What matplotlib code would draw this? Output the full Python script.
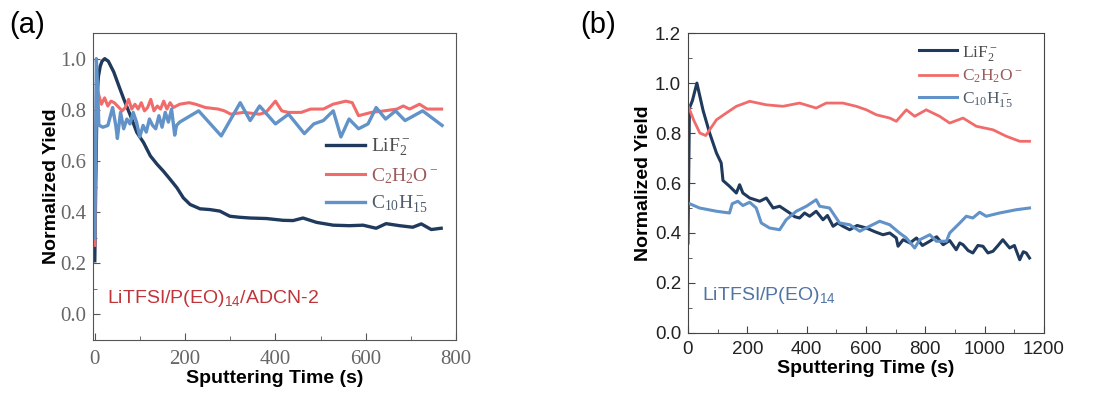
import matplotlib
matplotlib.use('Agg')
import matplotlib.pyplot as plt
from matplotlib.ticker import MultipleLocator

# ---- panel (a) data: LiTFSI/P(EO)14/ADCN-2 ----
a_lif_x = [0, 2, 5, 8, 12, 16, 22, 30, 42, 53, 64, 79, 93, 108, 123, 138, 152, 167, 182, 196, 211,
           233, 255, 277, 299, 320, 344, 380, 417, 439, 461, 491, 528, 564, 594, 623, 645, 675, 704,
           723, 745, 767]
a_lif_y = [0.21, 0.50, 0.85, 0.93, 0.97, 0.99, 1.00, 0.99, 0.948, 0.895, 0.843, 0.777, 0.712, 0.672,
           0.62, 0.587, 0.56, 0.528, 0.495, 0.456, 0.43, 0.413, 0.41, 0.404, 0.384, 0.38, 0.377,
           0.375, 0.368, 0.367, 0.377, 0.36, 0.349, 0.347, 0.349, 0.337, 0.355, 0.347, 0.341, 0.354,
           0.332, 0.337]

a_c2_x = [0, 2, 4, 7.6, 14.7, 21.8, 28.8, 35.9, 43, 53.6, 60.7, 67.7, 74.8, 81.9, 89, 96, 103, 110,
          117, 124, 131, 138.5, 145.6, 152.6, 159.7, 166.8, 173.9, 188, 209, 223, 245, 273, 287, 301,
          329.5, 365, 379, 400, 414, 428.6, 457, 478, 506, 527.6, 556, 570, 584, 612.5, 641, 669, 683,
          697, 719, 736, 768]
a_c2_y = [0.27, 0.60, 0.92, 0.866, 0.822, 0.847, 0.815, 0.834, 0.828, 0.809, 0.796, 0.809, 0.841,
          0.803, 0.822, 0.803, 0.828, 0.796, 0.809, 0.841, 0.796, 0.815, 0.803, 0.834, 0.803, 0.828,
          0.809, 0.822, 0.828, 0.822, 0.809, 0.803, 0.796, 0.783, 0.790, 0.783, 0.790, 0.834, 0.796,
          0.790, 0.790, 0.803, 0.803, 0.822, 0.834, 0.828, 0.777, 0.790, 0.796, 0.803, 0.815, 0.803,
          0.822, 0.803, 0.803]

a_c10_x = [0, 2, 3.5, 6, 9, 18, 29, 39.5, 46.5, 50, 57, 64, 71, 78, 85, 92.5, 99.6, 107, 114, 121,
           128, 135, 142, 149, 156, 163, 170, 177, 181, 188, 230, 280, 322, 344, 365, 400, 429, 464,
           485, 506, 528, 545, 563, 584, 605, 623, 644, 666, 687, 726, 769]
a_c10_y = [0.30, 0.70, 1.00, 0.90, 0.74, 0.732, 0.739, 0.809, 0.739, 0.688, 0.79, 0.726, 0.764,
           0.745, 0.79, 0.752, 0.694, 0.739, 0.713, 0.764, 0.739, 0.726, 0.777, 0.732, 0.79, 0.752,
           0.803, 0.701, 0.739, 0.752, 0.796, 0.698, 0.828, 0.758, 0.815, 0.745, 0.783, 0.707, 0.745,
           0.758, 0.796, 0.694, 0.764, 0.726, 0.745, 0.809, 0.764, 0.796, 0.758, 0.796, 0.739]

# ---- panel (b) data: LiTFSI/P(EO)14 ----
b_lif_x = [0, 5, 15, 30, 51, 73, 96, 112, 118, 140, 163, 174, 185, 208, 242, 264, 287, 309, 343, 360,
           376, 393, 410, 432, 455, 470, 489, 505, 522, 545, 570, 601, 630, 657, 680, 702, 708, 725,
           748, 770, 790, 815, 838, 860, 882, 904, 916, 927, 944, 960, 977, 994, 1011, 1028, 1045,
           1061, 1084, 1100, 1118, 1130, 1140, 1151]
b_lif_y = [0.36, 0.90, 0.93, 1.00, 0.89, 0.80, 0.72, 0.68, 0.61, 0.587, 0.56, 0.593, 0.56, 0.54,
           0.527, 0.54, 0.50, 0.507, 0.48, 0.465, 0.46, 0.48, 0.467, 0.487, 0.453, 0.47, 0.427, 0.44,
           0.427, 0.413, 0.43, 0.42, 0.405, 0.393, 0.40, 0.38, 0.347, 0.373, 0.36, 0.38, 0.35, 0.367,
           0.385, 0.353, 0.37, 0.333, 0.36, 0.353, 0.33, 0.32, 0.35, 0.347, 0.32, 0.327, 0.35, 0.373,
           0.34, 0.35, 0.293, 0.325, 0.32, 0.30]

b_c2_x = [0, 20, 40, 60, 96, 129, 163, 208, 264, 320, 376, 432, 466, 522, 567, 601, 635, 680, 702,
          736, 764, 803, 848, 882, 927, 972, 1028, 1073, 1118, 1151]
b_c2_y = [0.91, 0.85, 0.80, 0.79, 0.853, 0.88, 0.907, 0.927, 0.913, 0.907, 0.92, 0.90, 0.92, 0.92,
          0.907, 0.893, 0.873, 0.86, 0.847, 0.893, 0.867, 0.893, 0.867, 0.84, 0.86, 0.827, 0.813,
          0.787, 0.767, 0.767]

b_c10_x = [0, 39, 96, 140, 149, 168, 185, 208, 230, 247, 275, 309, 331, 365, 399, 432, 444, 477,
           511, 545, 579, 612, 646, 680, 713, 736, 764, 781, 815, 837, 871, 882, 916, 938, 960, 983,
           1005, 1050, 1106, 1151]
b_c10_y = [0.52, 0.50, 0.487, 0.48, 0.517, 0.527, 0.51, 0.523, 0.50, 0.44, 0.42, 0.413, 0.453,
           0.487, 0.507, 0.533, 0.507, 0.50, 0.44, 0.433, 0.407, 0.427, 0.447, 0.433, 0.40, 0.38,
           0.34, 0.373, 0.393, 0.367, 0.367, 0.40, 0.44, 0.467, 0.46, 0.483, 0.467, 0.48, 0.493, 0.50]

labels = [r'LiF$\mathregular{_2^-}$', r'C$\mathregular{_2}$H$\mathregular{_2}$O$\mathregular{^-}$',
          r'C$\mathregular{_{10}}$H$\mathregular{_{15}^-}$']
navy = '#1f3a5c'
red = '#f26b6b'
blue = '#6192c8'
legend_colors = ['#4d4d4d', '#9c5a5a', '#4e5c6c']

plt.rcParams['font.family'] = 'Liberation Sans'
fig = plt.figure(figsize=(10.99, 3.94), dpi=100)

# (a)
ax1 = fig.add_axes([0.0846, 0.137, 0.3304, 0.779])
ax1.plot(a_lif_x, a_lif_y, color=navy, lw=2.4, label=labels[0])
ax1.plot(a_c2_x, a_c2_y, color=red, lw=2.2, label=labels[1])
ax1.plot(a_c10_x, a_c10_y, color=blue, lw=2.4, label=labels[2])
ax1.set_xlim(-4, 800)
ax1.set_ylim(-0.1, 1.1)
ax1.set_xticks([0, 200, 400, 600, 800])
ax1.set_yticks([0.0, 0.2, 0.4, 0.6, 0.8, 1.0])
ax1.set_yticklabels(['0.0', '0.2', '0.4', '0.6', '0.8', '1.0'])
ax1.xaxis.set_minor_locator(MultipleLocator(100))
ax1.yaxis.set_minor_locator(MultipleLocator(0.1))
ax1.tick_params(which='both', direction='in', top=False, right=False, colors='#555555',
                labelcolor='#666666', labelsize=15)
ax1.tick_params(which='major', length=5)
ax1.tick_params(which='minor', length=3)
ax1.tick_params(axis='x', pad=7)
ax1.tick_params(axis='y', pad=5)
for lab in ax1.get_xticklabels() + ax1.get_yticklabels():
    lab.set_family('Liberation Serif')
for s in ax1.spines.values():
    s.set_color('#555555')
ax1.set_xlabel('Sputtering Time (s)', fontsize=14, fontweight='bold', labelpad=1)
ax1.set_ylabel('Normalized Yield', fontsize=14, fontweight='bold', labelpad=0)
ax1.legend(loc='center right', bbox_to_anchor=(1.0, 0.535), frameon=False,
           prop={'family': 'Liberation Serif', 'size': 14}, handlelength=2.0,
           labelspacing=0.4, handletextpad=0.3, labelcolor=legend_colors)
ax1.text(0.04, 0.12, r'LiTFSI/P(EO)$\mathregular{_{14}}$/ADCN-2', transform=ax1.transAxes,
         color='#c0353a', fontsize=14)

# (b)
ax2 = fig.add_axes([0.626, 0.155, 0.324, 0.761])
ax2.plot(b_lif_x, b_lif_y, color=navy, lw=2.2, label=labels[0])
ax2.plot(b_c2_x, b_c2_y, color=red, lw=2.0, label=labels[1])
ax2.plot(b_c10_x, b_c10_y, color=blue, lw=2.2, label=labels[2])
ax2.set_xlim(0, 1200)
ax2.set_ylim(0, 1.2)
ax2.set_xticks([0, 200, 400, 600, 800, 1000, 1200])
ax2.set_yticks([0.0, 0.2, 0.4, 0.6, 0.8, 1.0, 1.2])
ax2.set_yticklabels(['0.0', '0.2', '0.4', '0.6', '0.8', '1.0', '1.2'])
ax2.xaxis.set_minor_locator(MultipleLocator(100))
ax2.yaxis.set_minor_locator(MultipleLocator(0.1))
ax2.tick_params(which='both', direction='in', top=False, right=False, colors='#444444',
                labelcolor='#222222', labelsize=13.5)
ax2.tick_params(which='major', length=5)
ax2.tick_params(which='minor', length=3)
ax2.tick_params(axis='x', pad=6)
ax2.tick_params(axis='y', pad=5)
for s in ax2.spines.values():
    s.set_color('#444444')
ax2.set_xlabel('Sputtering Time (s)', fontsize=14, fontweight='bold', labelpad=1)
ax2.set_ylabel('Normalized Yield', fontsize=14, fontweight='bold', labelpad=2)
ax2.legend(loc='upper right', bbox_to_anchor=(0.97, 1.0), frameon=False,
           prop={'family': 'Liberation Serif', 'size': 12.5},
           handlelength=2.2, labelspacing=0.3, handletextpad=0.3, labelcolor=legend_colors,
           borderaxespad=0.2)
ax2.text(0.04, 0.11, r'LiTFSI/P(EO)$\mathregular{_{14}}$', transform=ax2.transAxes,
         color='#4f75a3', fontsize=14)

fig.text(0.008, 0.915, '(a)', fontsize=21)
fig.text(0.528, 0.915, '(b)', fontsize=21)

fig.savefig('out.png', dpi=100)
